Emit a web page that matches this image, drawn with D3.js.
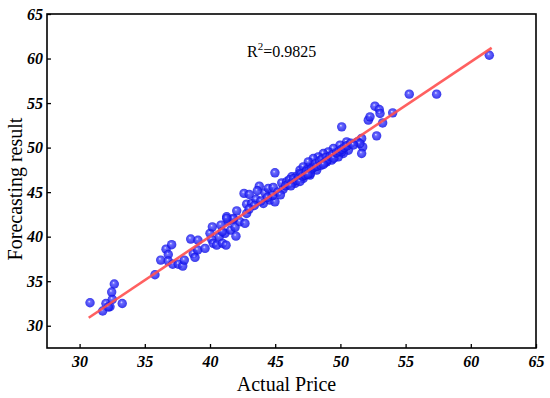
<!DOCTYPE html>
<html>
<head>
<meta charset="utf-8">
<script src="https://cdn.jsdelivr.net/npm/d3@7"></script>
<style>
  body { margin: 0; background: #fff; }
  svg text { font-family: "Liberation Serif", "Times New Roman", serif; }
</style>
</head>
<body>
<div id="chart"></div>
<script>
// actual price (x) and forecast (y) for every point
var actual = [
  30.8, 31.77, 32.02, 32.33, 32.51, 32.46, 32.66, 33.27, 32.2, 35.78,
  36.22, 36.63, 37.06, 36.8, 36.8, 37.14, 37.57, 37.91, 38.03, 38.52,
  38.72, 38.85, 39.06, 39.08, 39.62, 40.0, 40.18, 40.13, 40.25, 40.51,
  40.71, 40.84, 40.97, 41.15, 41.23, 41.4, 41.59, 41.79, 41.92, 41.99,
  42.05, 42.3, 42.68, 42.81, 42.81, 41.28, 40.94, 41.79, 41.28,
  44.98, 42.61, 43.01, 43.2, 43.53, 43.78, 43.63, 44.22, 44.47, 44.09,
  44.6, 44.98, 44.85, 45.5, 45.88, 46.27, 46.65, 46.9, 47.29, 47.54,
  47.92, 48.18, 48.44, 48.82, 47.15, 46.52,
  50.1, 52.78, 53.24, 52.14, 51.63, 51.71, 51.63, 51.3, 50.48, 49.97,
  49.46, 49.07, 48.69, 48.3, 47.92, 47.54, 47.15, 50.61, 50.22, 49.84,
  49.33, 48.95, 47.92, 47.42, 47.67, 46.9, 50.09, 51.49,
  61.42, 55.28, 57.38, 52.65, 52.98, 53.04, 54.01, 52.27,
  45.2, 45.6, 45.8, 46.0, 46.1, 46.3, 46.4, 46.6, 46.8, 46.9,
  47.0, 47.1, 47.3, 47.4, 47.6, 47.7, 47.8, 48.0, 48.1, 48.2,
  48.4, 48.5, 48.6, 48.8, 48.9, 49.0, 49.2, 49.4, 49.5, 49.7,
  49.9, 50.1, 50.3, 50.5, 50.8, 51.0, 45.4, 44.8, 44.4, 43.9,
  43.4, 43.0, 46.2, 47.5, 48.7
];
var forecast = [
  32.58, 31.65, 32.5, 32.13, 32.96, 33.78, 34.68, 32.5, 32.1, 35.72,
  37.37, 38.6, 39.1, 38.0, 37.26, 36.9, 36.9, 36.7, 37.37, 39.73,
  38.1, 37.67, 38.5, 39.6, 38.68, 40.37, 41.1, 39.7, 39.25, 39.05,
  40.0, 41.3, 39.25, 40.37, 39.05, 41.78, 40.74, 41.94, 41.04, 40.06,
  42.9, 41.67, 41.49, 42.6, 43.65, 42.23, 40.55, 42.05, 42.05,
  47.17, 44.86, 44.74, 43.73, 44.18, 45.67, 45.15, 44.92, 45.42, 43.73,
  44.1, 43.91, 45.53, 46.04, 46.16, 46.72, 46.8, 47.47, 47.1, 47.77,
  48.03, 47.47, 48.22, 48.4, 46.54, 45.98,
  52.33, 51.32, 52.77, 53.08, 51.03, 50.08, 49.34, 50.64, 50.64, 50.27,
  49.9, 49.52, 49.34, 48.96, 48.78, 48.4, 47.84, 49.71, 49.34, 48.96,
  48.59, 48.4, 47.84, 47.47, 46.91, 47.1, 49.52, 50.45,
  60.37, 56.0, 56.0, 54.65, 54.28, 53.83, 53.9, 53.45,
  45.0, 45.3, 45.7, 45.9, 46.4, 46.1, 46.5, 46.3, 46.6, 46.2,
  47.0, 46.8, 46.9, 47.3, 47.4, 47.1, 47.6, 47.8, 48.2, 47.9,
  48.5, 48.0, 48.7, 48.3, 48.9, 48.6, 49.0, 49.2, 48.8, 49.4,
  49.6, 49.8, 50.0, 50.2, 50.5, 50.3, 44.7, 44.6, 44.4, 44.0,
  43.5, 43.1, 45.7, 47.0, 48.1
];

// fitted line end points
var fitX = [30.7, 61.6];
var fitY = [30.9, 61.2];

var tickValues = [30, 35, 40, 45, 50, 55, 60, 65];
var r2Label = "0.9825";

var width = 550, height = 398;
var margin = {top: 14, right: 14, bottom: 50, left: 47};
var innerW = width - margin.left - margin.right,
    innerH = height - margin.top - margin.bottom;

var svg = d3.select("#chart")
  .append("svg")
    .attr("width", width)
    .attr("height", height);

// shaded ball look
var grad = svg.append("defs").append("radialGradient")
  .attr("id", "ball")
  .attr("cx", "50%").attr("cy", "50%").attr("r", "50%")
  .attr("fx", "40%").attr("fy", "35%");
grad.append("stop").attr("offset", "0%").attr("stop-color", "#e4e4ff");
grad.append("stop").attr("offset", "28%").attr("stop-color", "#4a4aff");
grad.append("stop").attr("offset", "100%").attr("stop-color", "#0c0ce6");

var g = svg.append("g")
  .attr("transform", "translate(" + margin.left + "," + margin.top + ")");

var x = d3.scaleLinear().domain([27.5, 65]).range([0, innerW]);
var y = d3.scaleLinear().domain([27.5, 65]).range([innerH, 0]);

var xAxis = g.append("g")
  .attr("transform", "translate(0," + innerH + ")")
  .call(d3.axisBottom(x).tickValues(tickValues).tickSizeInner(-4).tickSizeOuter(0).tickPadding(8));
var yAxis = g.append("g")
  .call(d3.axisLeft(y).tickValues(tickValues).tickSizeInner(-4).tickSizeOuter(0).tickPadding(4));

[xAxis, yAxis].forEach(function(a){
  a.select(".domain").remove();
  a.selectAll("line").attr("stroke", "#000").attr("stroke-width", 1.3);
  a.selectAll("text")
    .style("font-family", "'Liberation Serif', serif")
    .style("font-size", "16px")
    .style("font-weight", "bold")
    .style("font-style", "italic")
    .attr("fill", "#000");
});

// frame
g.append("rect")
  .attr("width", innerW)
  .attr("height", innerH)
  .attr("fill", "none")
  .attr("stroke", "#000")
  .attr("stroke-width", 1.6);

var pts = d3.zip(actual, forecast);

g.append("g")
  .selectAll("circle")
  .data(pts)
  .enter()
  .append("circle")
    .attr("cx", function(d){ return x(d[0]); })
    .attr("cy", function(d){ return y(d[1]); })
    .attr("r", 4.7)
    .attr("fill", "url(#ball)")
    .attr("fill-opacity", 0.82);

g.append("path")
  .datum(d3.zip(fitX, fitY))
  .attr("fill", "none")
  .attr("stroke", "#ff4f4f")
  .attr("stroke-opacity", 0.9)
  .attr("stroke-width", 2.6)
  .attr("d", d3.line()
    .x(function(d){ return x(d[0]); })
    .y(function(d){ return y(d[1]); }));

// R squared label
var r2 = g.append("text")
  .attr("x", x(45.5))
  .attr("y", y(60.2))
  .attr("text-anchor", "middle")
  .style("font-size", "16px")
  .attr("fill", "#000");
r2.append("tspan").text("R");
r2.append("tspan").attr("dy", -7).style("font-size", "11px").text("2");
r2.append("tspan").attr("dy", 7).text("=" + r2Label);

// axis titles
svg.append("text")
  .attr("x", margin.left + innerW / 2 - 5)
  .attr("y", 391)
  .attr("text-anchor", "middle")
  .style("font-size", "20px")
  .text("Actual Price");

svg.append("text")
  .attr("transform", "translate(22," + (margin.top + innerH / 2 + 8) + ") rotate(-90)")
  .attr("text-anchor", "middle")
  .style("font-size", "20px")
  .text("Forecasting result");
</script>
</body>
</html>
